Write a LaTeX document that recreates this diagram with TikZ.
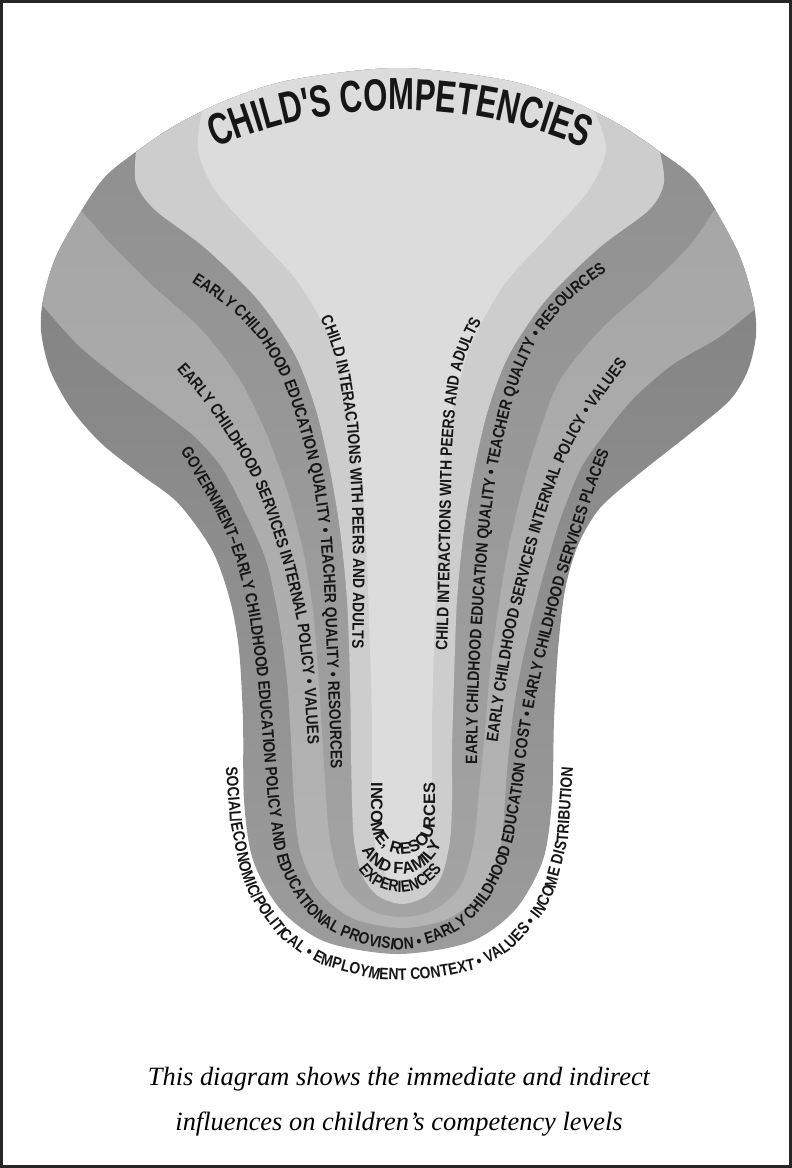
\documentclass[tikz,border=0pt]{standalone}
\usepackage{fontspec}
\setmainfont{Liberation Serif}
\newfontfamily\lblfam[FakeStretch=0.84]{Liberation Sans}
\newfontfamily\famfam{Liberation Sans}
\newfontfamily\ttlfam[FakeStretch=0.69]{Liberation Sans}
\newcommand\lblf{\lblfam\bfseries\fontsize{8.25}{9}\selectfont}
\newcommand\famf{\famfam\bfseries\fontsize{8.25}{9}\selectfont}
\newcommand\ttlf{\ttlfam\bfseries\fontsize{22.5}{26}\selectfont}
\usetikzlibrary{decorations.text}
\definecolor{govtop}{HTML}{7C7C7C}
\definecolor{govbot}{HTML}{9C9C9C}
\definecolor{ecstop}{HTML}{A2A2A2}
\definecolor{ecsbot}{HTML}{B4B4B4}
\definecolor{ecqtop}{HTML}{8C8C8C}
\definecolor{ecqbot}{HTML}{A4A4A4}
\definecolor{capc}{HTML}{CDCDCD}
\definecolor{corec}{HTML}{DCDCDC}
\definecolor{txtc}{HTML}{161616}
\definecolor{framec}{HTML}{262626}
\begin{document}
\begin{tikzpicture}[x=0.5pt,y=0.5pt,
  curvetext/.style={decorate, decoration={text along path, text color=txtc, text align=center, text={#1}}},
  caption/.style={font=\itshape\fontsize{13.2}{16}\selectfont, anchor=base, inner sep=0pt, text=black}]
\useasboundingbox (0,0) rectangle (792,-1168);
\fill[white] (0,0) rectangle (792,-1168);

% --- layered keyhole shape ---
\shade[top color=govtop, bottom color=govbot] plot[smooth cycle] coordinates {(398,-68) (505,-80) (569,-100) (620,-125) (660,-152) (698,-183) (737,-250) (753,-300) (756,-335) (748,-370) (730,-400) (692,-432) (640,-473) (600,-508) (578,-545) (565,-590) (558,-650) (554,-720) (552,-800) (543,-860) (515,-910) (470,-942) (398,-954) (326,-942) (281,-910) (253,-860) (244,-800) (243,-720) (239,-650) (230,-600) (212,-550) (178,-503) (140,-474) (102,-444) (72,-410) (50,-370) (41,-330) (44,-295) (59,-250) (100,-183) (136,-152) (176,-125) (227,-100) (291,-80)};
\begin{scope}
\clip plot[smooth cycle] coordinates {(398,-68) (505,-80) (569,-100) (620,-125) (660,-152) (698,-183) (737,-250) (753,-300) (756,-335) (748,-370) (730,-400) (692,-432) (640,-473) (600,-508) (578,-545) (565,-590) (558,-650) (554,-720) (552,-800) (543,-860) (515,-910) (470,-942) (398,-954) (326,-942) (281,-910) (253,-860) (244,-800) (243,-720) (239,-650) (230,-600) (212,-550) (178,-503) (140,-474) (102,-444) (72,-410) (50,-370) (41,-330) (44,-295) (59,-250) (100,-183) (136,-152) (176,-125) (227,-100) (291,-80)};
% services internal policy band
\shade[top color=ecstop, bottom color=ecsbot] (-20,-305) -- plot[smooth] coordinates {(42,-305) (78,-345) (118,-378) (158,-408) (195,-437) (222,-468) (244,-510) (266,-560) (279,-620) (287,-680) (291,-740) (294,-800) (300,-850) (318,-890) (352,-918) (402,-928) (450,-918) (482,-890) (500,-850) (505,-800) (508,-760) (515,-700) (527,-640) (542,-580) (560,-520) (580,-470) (600,-440) (632,-400) (672,-365) (718,-338) (754,-310)} -- (820,-310) -- (820,20) -- (-20,20) -- cycle;
% education quality band
\shade[top color=ecqtop, bottom color=ecqbot] (-20,-210) -- plot[smooth] coordinates {(81,-210) (112,-245) (152,-285) (202,-330) (240,-380) (265,-430) (287,-490) (303,-550) (313,-610) (318,-670) (322,-730) (325,-780) (330,-840) (343,-885) (370,-910) (402,-917) (434,-910) (461,-885) (474,-840) (480,-780) (485,-730) (490,-670) (498,-610) (508,-550) (522,-490) (540,-430) (560,-380) (600,-330) (650,-285) (690,-245) (714,-210)} -- (820,-210) -- (820,20) -- (-20,20) -- cycle;
% cap and funnel
\fill[capc] (-20,-152) -- plot[smooth] coordinates {(136,-152) (136,-183) (155,-210) (205,-248) (258,-300) (295,-355) (316,-410) (330,-470) (340,-530) (347,-600) (350,-680) (351,-750) (352,-800) (354,-840) (362,-875) (378,-896) (402,-904) (426,-896) (442,-875) (450,-840) (452,-800) (452,-750) (454,-680) (457,-600) (464,-530) (474,-470) (488,-410) (509,-355) (546,-300) (599,-248) (649,-210) (664,-183) (660,-152)} -- (820,-152) -- (820,20) -- (-20,20) -- cycle;
% lighter core
\fill[corec] (-20,-112) -- plot[smooth] coordinates {(202,-112) (198,-150) (215,-190) (255,-235) (300,-285) (335,-350) (355,-430) (365,-520) (369,-620) (372,-720) (372,-800) (376,-850) (388,-878) (402,-884) (416,-878) (428,-850) (432,-800) (432,-720) (435,-620) (439,-520) (449,-430) (469,-350) (504,-285) (549,-235) (589,-190) (606,-150) (595,-112)} -- (820,-112) -- (820,20) -- (-20,20) -- cycle;
\end{scope}

% --- title (arc, centre (400,-577), r=467) ---
\path[curvetext={|\ttlf|CHILD'S COMPETENCIES}] (400,-577) ++(125:467) arc[start angle=125, end angle=55, radius=467];

% --- child interactions ---
\path[curvetext={|\lblf|CHILD INTERACTIONS WITH PEERS AND ADULTS}] plot coordinates {(306,-290) (316,-310) (326,-330) (333,-350) (339,-375) (343,-400) (347,-425) (349,-450) (352,-500) (353,-550) (353,-600) (352,-655) (351,-680)};
\path[curvetext={|\lblf|CHILD INTERACTIONS WITH PEERS AND ADULTS}] plot coordinates {(447,-680) (447,-655) (449,-600) (450,-550) (451,-500) (452,-450) (454,-425) (456,-400) (459,-380) (464,-360) (472,-340) (487,-310) (498,-296)};

% --- education quality ---
\path[curvetext={|\lblf|EARLY CHILDHOOD EDUCATION QUALITY • TEACHER QUALITY • RESOURCES}] plot coordinates {(165,-266) (188,-280) (207,-292) (225,-305) (243,-321) (260,-340) (272,-359) (283,-380) (292,-404) (300,-430) (307,-455) (313,-480) (320,-530) (324,-580) (326,-630) (328,-680) (330,-730) (331,-770) (332,-800)};
\path[curvetext={|\lblf|EARLY CHILDHOOD EDUCATION QUALITY • TEACHER QUALITY • RESOURCES}] plot coordinates {(477,-800) (477,-770) (478,-700) (481,-640) (485,-580) (490,-520) (497,-470) (503,-440) (510,-410) (517,-387) (525,-365) (535,-344) (548,-325) (561,-309) (575,-295) (593,-281) (612,-268) (638,-254)};

% --- services internal policy ---
\path[curvetext={|\lblf|EARLY CHILDHOOD SERVICES INTERNAL POLICY • VALUES}] plot coordinates {(160,-350) (178,-371) (192,-387) (206,-404) (223,-429) (240,-455) (252,-477) (262,-500) (274,-535) (285,-570) (297,-620) (304,-680) (308,-745) (309,-770)};
\path[curvetext={|\lblf|EARLY CHILDHOOD SERVICES INTERNAL POLICY • VALUES}] plot coordinates {(496,-770) (497,-748) (505,-690) (515,-630) (530,-570) (539,-535) (550,-500) (561,-469) (575,-440) (587,-419) (600,-400) (615,-380) (630,-360) (645,-343)};

% --- government ---
\path[curvetext={|\lblf|GOVERNMENT–EARLY CHILDHOOD EDUCATION POLICY AND EDUCATIONAL PROVISION • EARLY CHILDHOOD EDUCATION COST • EARLY CHILDHOOD SERVICES PLACES}] plot coordinates {(165,-430) (184,-457) (199,-482) (214,-508) (226,-533) (236,-560) (244,-590) (250,-620) (258,-680) (263,-740) (268,-800) (274,-845) (279,-865) (287,-882) (297,-899) (308,-913) (322,-926) (338,-935) (356,-942) (375,-947) (395,-950) (415,-948) (433,-943) (450,-935) (465,-926) (478,-913) (489,-899) (498,-882) (507,-862) (513,-840) (522,-790) (528,-740) (535,-700) (549,-640) (565,-580) (583,-525) (594,-490) (608,-455) (622,-428)};

% --- social context ---
\path[curvetext={|\lblf|SOCIAL/ECONOMIC/POLITICAL • EMPLOYMENT CONTEXT • VALUES • INCOME DISTRIBUTION}] plot coordinates {(225,-740) (226,-770) (230,-820) (240,-870) (249,-894) (262,-915) (279,-937) (300,-953) (324,-966) (350,-973) (375,-979) (400,-980) (425,-979) (450,-975) (473,-970) (495,-960) (514,-947) (530,-930) (544,-912) (555,-890) (568,-840) (573,-770) (573,-740)};

% --- family ---
\path[curvetext={|\famf|INCOME, RESOURCES}] (371,-772) -- (371,-822) arc[start angle=180, end angle=360, radius=32] -- (435,-772);
\path[curvetext={|\famf|AND FAMILY}] (400,-831) ++(205:43) arc[start angle=205, end angle=345, radius=43];
\path[curvetext={|\lblf|EXPERIENCES}] (400,-842) ++(208:50) arc[start angle=208, end angle=332, radius=50];

% --- caption ---
\node[caption] (cap1) at (399,-1085) {This diagram shows the immediate and indirect};
\node[caption] (cap2) at (399,-1130) {influences on children’s competency levels};

% --- frame ---
\draw[framec, line width=1.5pt] (1.5,-1.5) rectangle (790.5,-1166.5);
\end{tikzpicture}
\end{document}
